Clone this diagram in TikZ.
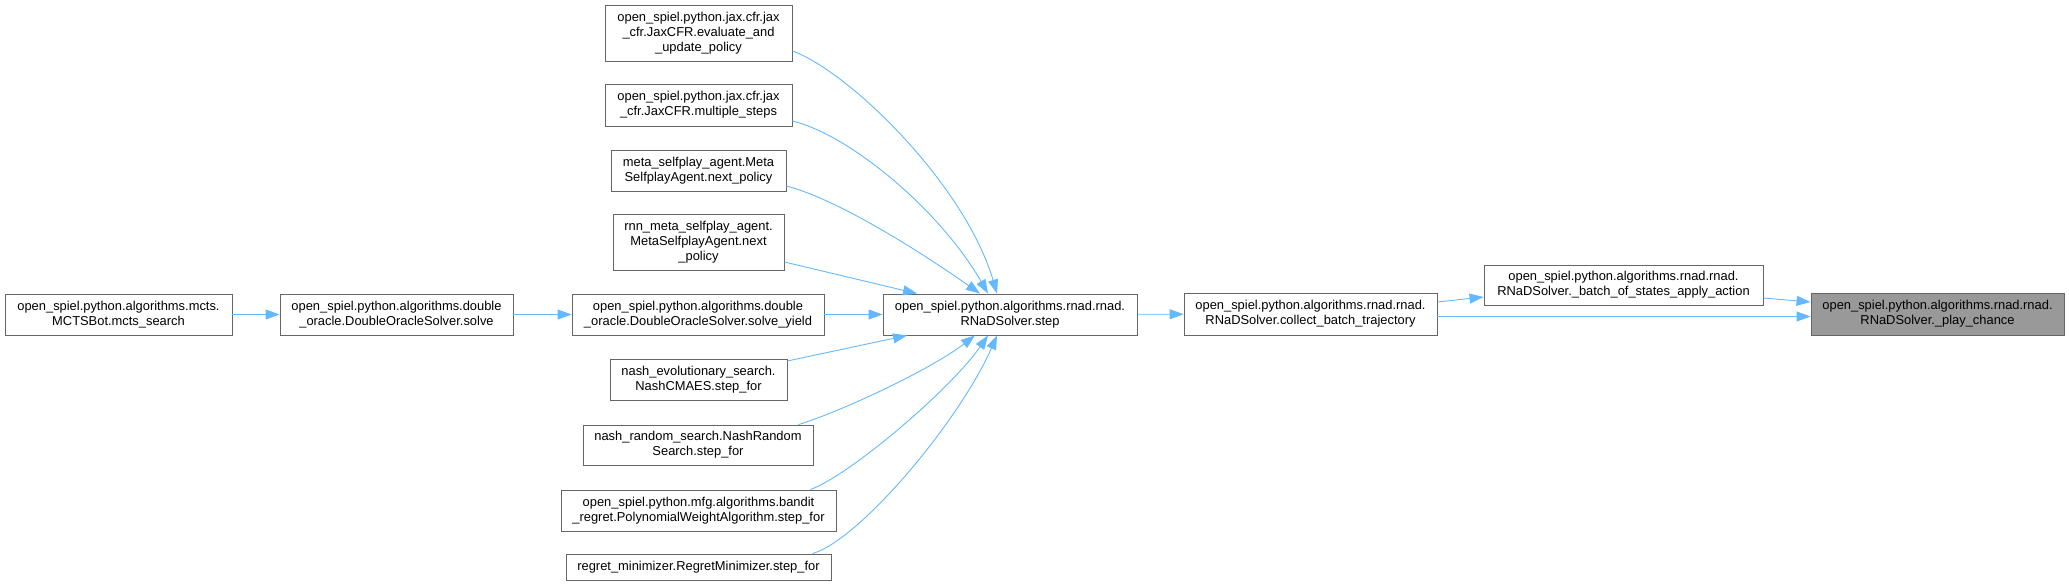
\documentclass[tikz,border=0pt]{standalone}
\usepackage{fontspec}
\setmainfont{Liberation Sans}
\usetikzlibrary{arrows.meta,calc}
\definecolor{edgeblue}{HTML}{63B8FF}
\definecolor{boxline}{HTML}{666666}
\definecolor{boxgray}{HTML}{999999}

\begin{document}
\begin{tikzpicture}[x=1pt,y=-1pt,
  fn/.style={draw=boxline,fill=white,line width=0.9pt,align=center,inner sep=0pt,
    font=\fontsize{12.9}{15}\selectfont},
  cur/.style={fn,fill=boxgray},
  call/.style={draw=edgeblue,line width=0.9pt,-{Triangle[length=14pt,width=10pt]}}]
\useasboundingbox (0,0) rectangle (2069,586);

% chain along the middle
\node[fn,minimum width=227pt,minimum height=41pt] (mcts) at (118.5,314.5) {open\_spiel.python.algorithms.mcts.\\MCTSBot.mcts\_search};
\node[fn,minimum width=233pt,minimum height=41pt] (solve) at (396.5,314.5) {open\_spiel.python.algorithms.double\\\_oracle.DoubleOracleSolver.solve};
\node[fn,minimum width=252pt,minimum height=41pt] (yield) at (698,314.5) {open\_spiel.python.algorithms.double\\\_oracle.DoubleOracleSolver.solve\_yield};
\node[fn,minimum width=254pt,minimum height=41pt] (step) at (1010,314.5) {open\_spiel.python.algorithms.rnad.rnad.\\RNaDSolver.step};
\node[fn,minimum width=253pt,minimum height=42pt] (collect) at (1310.5,314) {open\_spiel.python.algorithms.rnad.rnad.\\RNaDSolver.collect\_batch\_trajectory};
\node[fn,minimum width=279pt,minimum height=40pt] (batch) at (1623.5,285) {open\_spiel.python.algorithms.rnad.rnad.\\RNaDSolver.\_batch\_of\_states\_apply\_action};
\node[cur,minimum width=253pt,minimum height=42pt] (play) at (1937.5,314) {open\_spiel.python.algorithms.rnad.rnad.\\RNaDSolver.\_play\_chance};

% callers of step, above
\node[fn,minimum width=187pt,minimum height=56pt] (jaxeval) at (698.5,33) {open\_spiel.python.jax.cfr.jax\\\_cfr.JaxCFR.evaluate\_and\\\_update\_policy};
\node[fn,minimum width=187pt,minimum height=42pt] (jaxmulti) at (698.5,105) {open\_spiel.python.jax.cfr.jax\\\_cfr.JaxCFR.multiple\_steps};
\node[fn,minimum width=175pt,minimum height=41pt] (metanext) at (698.5,170.5) {meta\_selfplay\_agent.Meta\\SelfplayAgent.next\_policy};
\node[fn,minimum width=171pt,minimum height=56pt] (rnnnext) at (698.5,242) {rnn\_meta\_selfplay\_agent.\\MetaSelfplayAgent.next\\\_policy};

% callers of step, below
\node[fn,minimum width=177pt,minimum height=41pt] (cmaes) at (698.5,379.5) {nash\_evolutionary\_search.\\NashCMAES.step\_for};
\node[fn,minimum width=230pt,minimum height=40pt] (randsearch) at (698,445) {nash\_random\_search.NashRandom\\Search.step\_for};
\node[fn,minimum width=275pt,minimum height=41pt] (polyweight) at (698.5,510.5) {open\_spiel.python.mfg.algorithms.bandit\\\_regret.PolynomialWeightAlgorithm.step\_for};
\node[fn,minimum width=265pt,minimum height=26pt] (regretmin) at (698.5,567) {regret\_minimizer.RegretMinimizer.step\_for};

% calls
\draw[call] (mcts) -- (solve);
\draw[call] (solve) -- (yield);
\draw[call] (yield) -- (step);
\draw[call] (step) -- (collect);
\draw[call] ($(jaxeval.east)+(0,18)$) .. controls (850,72) and (965,185) .. ($(step.north)+(-13,0)$);
\draw[call] ($(jaxmulti.east)+(0,16)$) .. controls (850,135) and (940,210) .. ($(step.north)+(-22,0)$);
\draw[call] ($(metanext.east)+(0,15.5)$) .. controls (840,200) and (925,255) .. ($(step.north)+(-30,0)$);
\draw[call] ($(rnnnext.east)+(0,20)$) -- ($(step.north)+(-93,0)$);
\draw[call] ($(cmaes.east)+(0,-18.5)$) -- ($(step.south)+(-103,0)$);
\draw[call] ($(randsearch.north east)+(-15,0)$) .. controls (840,412) and (930,370) .. ($(step.south)+(-35,0)$);
\draw[call] ($(polyweight.north east)+(-26,0)$) .. controls (850,475) and (950,390) .. ($(step.south)+(-22,0)$);
\draw[call] ($(regretmin.north east)+(-19,0)$) .. controls (860,540) and (960,420) .. ($(step.south)+(-13,0)$);
\draw[call] ($(collect.east)+(0,-12)$) -- ($(batch.west)+(0,12)$);
\draw[call] ($(collect.east)+(0,2.5)$) -- ($(play.west)+(0,2.5)$);
\draw[call] ($(batch.east)+(0,13)$) -- ($(play.west)+(0,-12)$);
\end{tikzpicture}
\end{document}
